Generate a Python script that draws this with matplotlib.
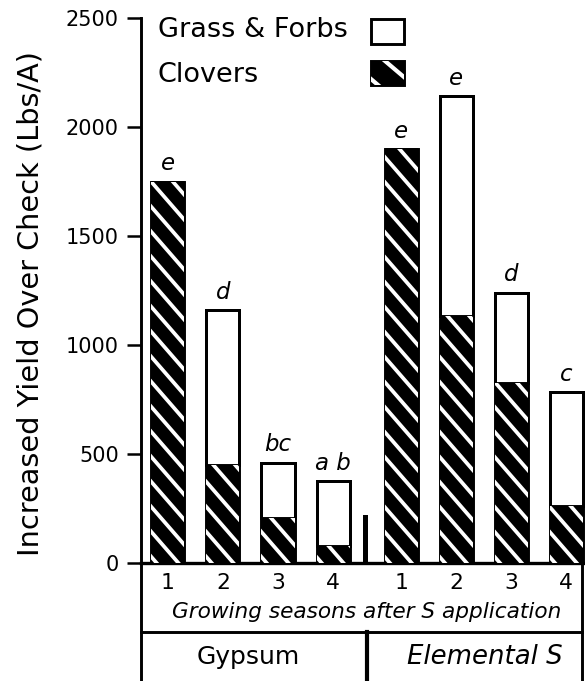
import matplotlib
matplotlib.use("Agg")
import matplotlib.pyplot as plt
from matplotlib.lines import Line2D
from matplotlib.patches import Rectangle
from matplotlib.transforms import IdentityTransform
import numpy as np

# data (Lbs/A over check)
seasons = ['1', '2', '3', '4']
gypsum_total = [1750, 1160, 460, 375]
gypsum_clover = [1750, 450, 205, 80]
gypsum_letters = ['e', 'd', 'bc', 'a b']
elemental_total = [1900, 2140, 1240, 785]
elemental_clover = [1900, 1135, 825, 260]
elemental_letters = ['e', 'e', 'd', 'c']
divider_height = 220

W, H = 585, 681
plt.rcParams['font.family'] = ['DejaVu Sans']

fig = plt.figure(figsize=(W / 150, H / 150), dpi=150)

def fx(px):
    return px / W

def fy(py):
    return 1 - py / H

ax = fig.add_axes([fx(141), fy(563), fx(585) - fx(141), fy(18) - fy(563)])
ax.set_ylim(0, 2500)
ax.set_xlim(-0.49, 7.58)

def stripes(patch, spacing=25, slope=1.15, lw=1.8):
    # white diagonal stripes (upper-left to lower-right) clipped to the patch
    bb = patch.get_extents()
    drop = (bb.x1 - bb.x0) * slope
    for yk in np.arange(bb.y0 + 6, bb.y1 + drop + spacing, spacing):
        ln = Line2D([bb.x0 - 2, bb.x1 + 2], [yk + 2 * slope, yk - drop - 2 * slope],
                    color='white', linewidth=lw, transform=IdentityTransform(), zorder=2.5)
        ln.set_clip_path(patch)
        fig.add_artist(ln)

x_gyp = np.arange(4)
x_ele = np.arange(4) + 4.24
xs = np.concatenate([x_gyp, x_ele])
total = np.array(gypsum_total + elemental_total)
clover = np.array(gypsum_clover + elemental_clover)
letters = gypsum_letters + elemental_letters
width = 0.6

# clover part: black, striped
clover_bars = ax.bar(xs, clover, width, color='black', linewidth=0, zorder=2)
for p in clover_bars:
    stripes(p)
# grass & forbs on top
ax.bar(xs, total - clover, width, bottom=clover, facecolor='white', edgecolor='black',
       linewidth=1.4, zorder=3)
# outline
ax.bar(xs, total, width, fill=False, edgecolor='black', linewidth=1.4, zorder=4)

# small separator mark between groups
ax.bar([3.59], [divider_height], 0.08, color='black', zorder=2)

for x, t, lab in zip(xs, total, letters):
    ax.annotate(lab, (x, t), xytext=(0, 3), textcoords='offset points', ha='center',
                va='bottom', fontsize=11, style='italic')

ax.set_yticks([0, 500, 1000, 1500, 2000, 2500])
ax.set_yticklabels(['0', '500', '1000', '1500', '2000', '2500'], fontsize=10)
ax.tick_params(axis='y', length=6.7, width=1.2, pad=4, direction='out')
ax.set_xticks(xs)
ax.set_xticklabels(seasons * 2, fontsize=10.5)
ax.tick_params(axis='x', length=0, pad=5)
for s in ['top', 'right']:
    ax.spines[s].set_visible(False)
ax.spines['left'].set_linewidth(1.4)
ax.spines['bottom'].set_linewidth(1.6)

# legend drawn by hand: text on left, swatch on right
ax.text(0.038, 0.978, 'Grass & Forbs', transform=ax.transAxes, fontsize=13, va='center')
ax.text(0.038, 0.895, 'Clovers', transform=ax.transAxes, fontsize=13, va='center')
ax.add_patch(Rectangle((0.518, 0.952), 0.074, 0.047, transform=ax.transAxes, facecolor='white',
                       edgecolor='black', linewidth=1.4, clip_on=False))
sw = Rectangle((0.518, 0.877), 0.074, 0.044, transform=ax.transAxes, facecolor='black',
               linewidth=0, clip_on=False)
ax.add_patch(sw)
stripes(sw, spacing=30, slope=0.85, lw=2.0)
ax.add_patch(Rectangle((0.518, 0.877), 0.074, 0.044, transform=ax.transAxes, fill=False,
                       edgecolor='black', linewidth=1.4, clip_on=False, zorder=5))

fig.text(fx(31), fy(303), 'Increased Yield Over Check (Lbs/A)', rotation=90, fontsize=13.8,
         ha='center', va='center')

# table under the axis
def fline(x0, y0, x1, y1, lw=1.4):
    fig.add_artist(Line2D([fx(x0), fx(x1)], [fy(y0), fy(y1)], color='black', linewidth=lw,
                          transform=fig.transFigure))

fline(141, 563, 141, 681)
fline(582, 563, 582, 681)
fline(141, 632, 582, 632)
fline(367, 632, 367, 681, lw=2.0)

fig.text(fx(367), fy(612), 'Growing seasons after S application', fontsize=10.4, style='italic',
         ha='center', va='center')
fig.text(fx(248), fy(657), 'Gypsum', fontsize=12, ha='center', va='center')
fig.text(fx(485), fy(657), 'Elemental S', fontsize=12.5, style='italic', ha='center', va='center')

fig.savefig('out.png', dpi=150)
